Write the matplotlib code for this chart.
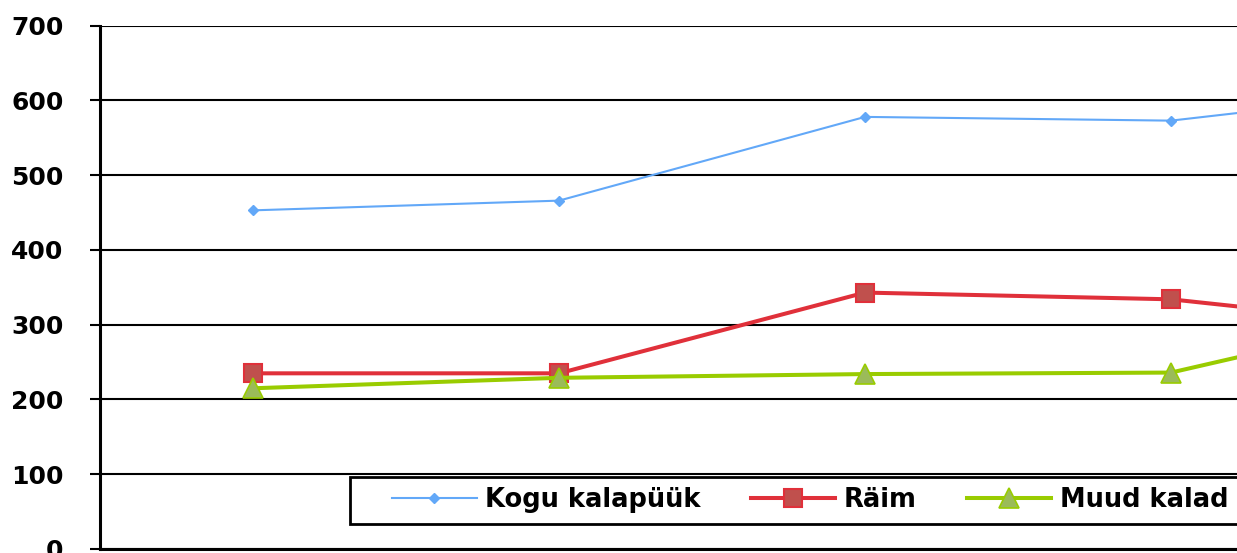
import matplotlib
matplotlib.use("Agg")
import matplotlib.pyplot as plt
from matplotlib.patches import Rectangle

# Data
categories = ["1", "2", "3", "4", "5"]
kogu_kalapuuk = [453, 466, 578, 573, 620]
raim = [235, 235, 343, 334, 290]
muud_kalad = [215, 229, 234, 236, 330]
series_labels = ["Kogu kalapüük", "Räim", "Muud kalad"]
y_ticks = [0, 100, 200, 300, 400, 500, 600, 700]

plt.rcParams['font.family'] = ['DejaVu Sans']
plt.rcParams['font.weight'] = 'bold'

W, H = 1237, 553
fig = plt.figure(figsize=(W / 100, H / 100), dpi=100)

ax_left = 100 / W
ax_bottom = (H - 549) / H
ax_height = (549 - 25.7) / H
ax_width = 5 * 306 / W
ax = fig.add_axes([ax_left, ax_bottom, ax_width, ax_height])

x = list(range(len(categories)))
ax.plot(x, kogu_kalapuuk, color='#62A8F8', lw=1.5, marker='D', ms=5,
        mfc='#62A8F8', mec='#62A8F8', label=series_labels[0], zorder=3)
ax.plot(x, raim, color='#E0303A', lw=2.9, marker='s', ms=13,
        mfc='#C0504D', mec='#E0303A', mew=1.5, label=series_labels[1], zorder=4)
ax.plot(x, muud_kalad, color='#99CC00', lw=2.9, marker='^', ms=14,
        mfc='#9BBB59', mec='#99CC00', mew=1.2, label=series_labels[2], zorder=5)

ax.set_xlim(-0.5, len(categories) - 0.5)
ax.set_ylim(0, 700)
ax.set_yticks(y_ticks)
ax.set_xticks(x)
ax.set_xticklabels(categories)
ax.tick_params(axis='x', length=0, labelbottom=False)
ax.tick_params(axis='y', length=7.2, width=1.5, pad=19, labelsize=18)
for lab in ax.get_yticklabels():
    lab.set_fontweight('bold')

ax.grid(axis='y', color='black', lw=1.5, zorder=1)
ax.set_axisbelow(True)
for s in ['top', 'right']:
    ax.spines[s].set_visible(False)
ax.spines['left'].set_linewidth(2.2)
ax.spines['bottom'].set_linewidth(2.2)
ax.spines['left'].set_zorder(2)

# legend box
rect = Rectangle((350 / W, (H - 524) / H), 1000 / W, 47 / H,
                 transform=fig.transFigure, facecolor='white',
                 edgecolor='black', lw=2.0, zorder=4)
fig.add_artist(rect)

handles, labels = ax.get_legend_handles_labels()
leg = fig.legend(handles, labels, loc='center left',
                 bbox_to_anchor=(392 / W, (H - 500) / H),
                 ncol=3, frameon=False, borderpad=0, borderaxespad=0,
                 handlelength=3.3, handletextpad=0.32, columnspacing=1.95,
                 prop={'size': 18.5, 'weight': 'bold'})
leg.set_zorder(6)

fig.savefig("out.png", dpi=100)
